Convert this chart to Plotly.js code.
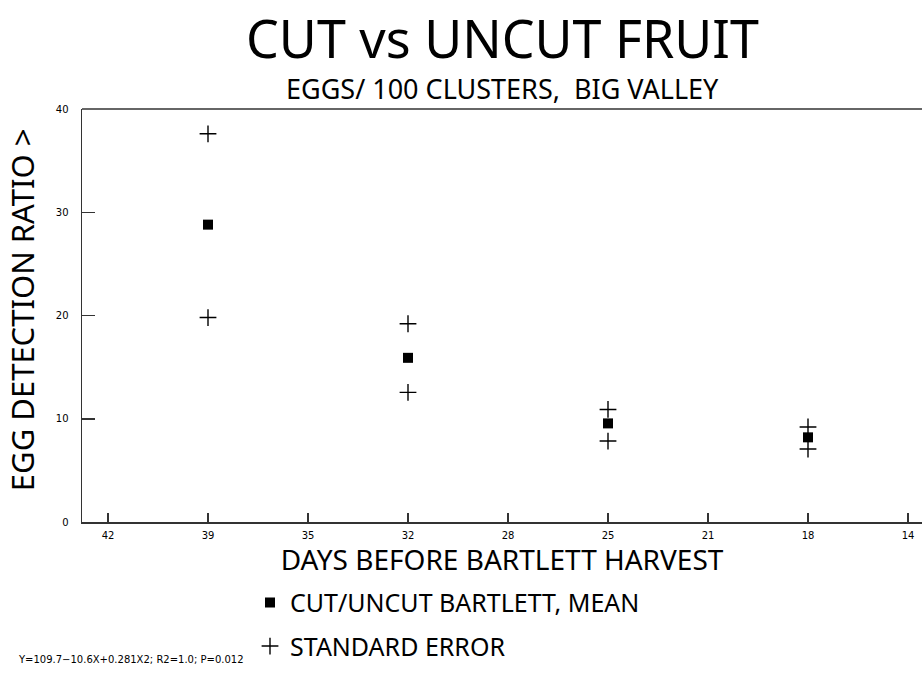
<!DOCTYPE html>
<html>
<head>
<meta charset="utf-8">
<script src="https://cdn.plot.ly/plotly-3.0.1.min.js"></script>
<style>html,body{margin:0;padding:0;background:#fff;}#chart{width:922px;height:689px;}</style>
</head>
<body>
<div id="chart"></div>
<script>
// Data
var days = [39, 32, 25, 18];
var meanRatio = [28.8, 15.9, 9.55, 8.2];
var upperSE = [37.6, 19.2, 10.9, 9.2];
var lowerSE = [19.8, 12.55, 7.84, 7.07];
var xTickVals = [42.5, 39, 35.5, 32, 28.5, 25, 21.5, 18, 14.5];
var xTickText = ["42", "39", "35", "32", "28", "25", "21", "18", "14"];
var yTickVals = [0, 10, 20, 30, 40];

var F = "Noto Sans, DejaVu Sans, sans-serif";

var traces = [
  {
    type: "scatter", mode: "markers", name: "CUT/UNCUT BARTLETT, MEAN",
    x: days, y: meanRatio, legendgroup: "a",
    marker: {symbol: "square", size: 10, color: "#000"}
  },
  {
    type: "scatter", mode: "markers", name: "STANDARD ERROR",
    x: days.concat(days), y: upperSE.concat(lowerSE), legendgroup: "b",
    marker: {symbol: "cross-thin-open", size: 12, color: "#000", line: {color: "#000", width: 1.4}}
  }
];

var layout = {
  width: 922, height: 689,
  paper_bgcolor: "#fff", plot_bgcolor: "#fff",
  margin: {l: 82, r: 0, t: 109, b: 167},
  showlegend: true,
  legend: {
    x: 0.2, xanchor: "left", y: -0.14, yanchor: "top",
    font: {family: F, size: 25, color: "#000"},
    tracegroupgap: 8, itemsizing: "trace"
  },
  xaxis: {
    range: [43.41, 14.01], tickmode: "array", tickvals: xTickVals, ticktext: xTickText,
    ticks: "inside", ticklen: 9, tickwidth: 1.5, tickcolor: "#333",
    showline: true, linecolor: "#333", linewidth: 1.5, mirror: false,
    showgrid: false, zeroline: false,
    tickfont: {family: "DejaVu Sans", size: 10, color: "#000"},
    ticklabelstandoff: 3,
    title: {text: "DAYS BEFORE BARTLETT HARVEST", font: {family: F, size: 28, color: "#000"}, standoff: 0}
  },
  yaxis: {
    range: [0, 40], tickmode: "array", tickvals: yTickVals,
    ticks: "inside", ticklen: 13, tickwidth: 1.5, tickcolor: "#333",
    showline: true, linecolor: "#333", linewidth: 1.5, mirror: false,
    showgrid: false, zeroline: false,
    tickfont: {family: "DejaVu Sans", size: 10, color: "#000"},
    ticklabelstandoff: 10
  },
  shapes: [
    {type: "line", xref: "paper", yref: "paper", x0: 0, x1: 1, y0: 1, y1: 1, line: {color: "#333", width: 1.5}}
  ],
  annotations: [
    {text: "CUT vs UNCUT FRUIT", xref: "paper", yref: "paper",
     x: 0.5, y: 1.2639, xanchor: "center", yanchor: "top", showarrow: false,
     font: {family: F, size: 52, color: "#000"}},
    {text: "EGGS/ 100 CLUSTERS,  BIG VALLEY", xref: "paper", yref: "paper",
     x: 0.5, y: 1.0508, xanchor: "center", yanchor: "middle", showarrow: false,
     font: {family: F, size: 27, color: "#000"}},
    {text: "EGG DETECTION RATIO >", xref: "paper", yref: "paper", textangle: -90,
     x: -0.0714, y: 0.513, xanchor: "center", yanchor: "middle", showarrow: false,
     font: {family: F, size: 31, color: "#000"}},
    {text: "Y=109.7\u221210.6X+0.281X2; R2=1.0; P=0.012", xref: "paper", yref: "paper",
     x: -0.078, y: -0.334, xanchor: "left", yanchor: "middle", showarrow: false,
     font: {family: "DejaVu Sans", size: 10, color: "#000"}}
  ]
};

Plotly.newPlot("chart", traces, layout, {displayModeBar: false, staticPlot: true});
</script>
</body>
</html>
